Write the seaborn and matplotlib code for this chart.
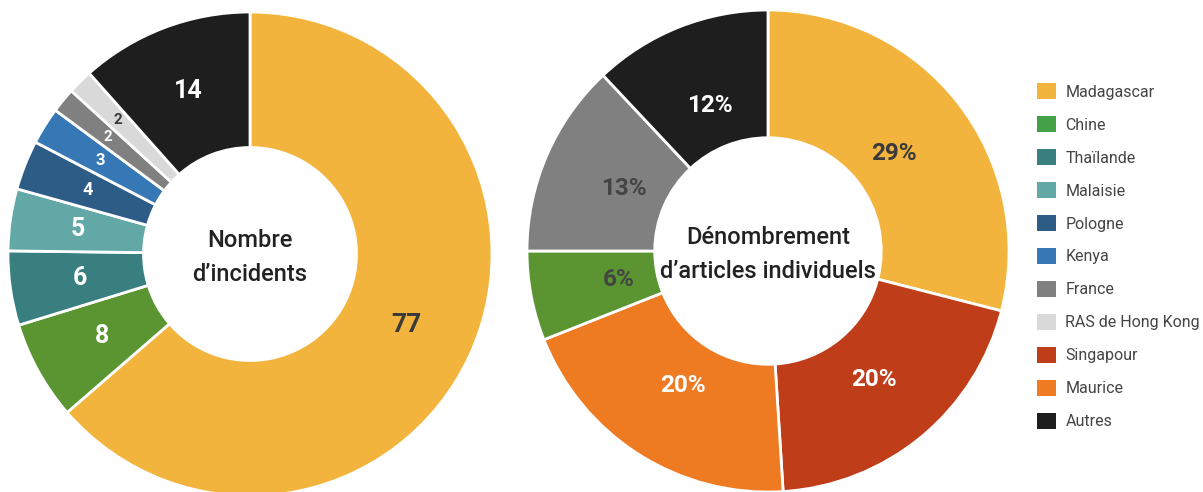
import matplotlib
matplotlib.use("Agg")
import numpy as np
import matplotlib.pyplot as plt
import seaborn as sns
from matplotlib.patches import Patch

# --- data ---
inc_labels = ['Madagascar', 'Chine', 'Thaïlande', 'Malaisie', 'Pologne', 'Kenya',
              'France', 'RAS de Hong Kong', 'Autres']
inc_values = [77, 8, 6, 5, 4, 3, 2, 2, 14]

art_labels = ['Madagascar', 'Singapour', 'Maurice', 'Chine', 'France', 'Autres']
art_values = [29, 20, 20, 6, 13, 12]

legend_labels = ['Madagascar', 'Chine', 'Thaïlande', 'Malaisie', 'Pologne', 'Kenya',
                 'France', 'RAS de Hong Kong', 'Singapour', 'Maurice', 'Autres']

colors = {
    'Madagascar': '#F2B43C', 'Chine': '#5A9532', 'Thaïlande': '#397F80',
    'Malaisie': '#62A8A6', 'Pologne': '#2D5D87', 'Kenya': '#3578B5',
    'France': '#808080', 'RAS de Hong Kong': '#D9D9D9', 'Singapour': '#C03D19',
    'Maurice': '#EE7A22', 'Autres': '#1E1E1E',
}
legend_colors = dict(colors, Chine='#43A047')

sns.set_theme(style='white')
plt.rcParams['font.family'] = ['Roboto', 'DejaVu Sans']

W, H = 1203, 492
fig = plt.figure(figsize=(W / 100, H / 100), dpi=100)


def donut(x0, x1, cx, cy, r, labels, values, hole, text_colors, sizes, label_r, fmt):
    # axes spanning pixel columns x0..x1, full height; pie centre at (cx, cy) px from top
    ax = fig.add_axes([x0 / W, 0, (x1 - x0) / W, 1])
    wedges, _ = ax.pie(values, colors=[colors[l] for l in labels], startangle=90,
                       counterclock=False, radius=1,
                       wedgeprops=dict(width=1 - hole, edgecolor='white', linewidth=2))
    ax.set_aspect('auto')
    ax.set_xlim((x0 - cx) / r, (x1 - cx) / r)
    ax.set_ylim(-(H - cy) / r, cy / r)
    ax.set_axis_off()
    for w, v, tc, fs, lr in zip(wedges, values, text_colors, sizes, label_r):
        ang = np.deg2rad((w.theta1 + w.theta2) / 2)
        ax.text(lr * np.cos(ang), lr * np.sin(ang), fmt(v), ha='center', va='center',
                color=tc, fontsize=fs, fontweight='bold')
    return ax


# left donut: number of incidents
ax1 = donut(0, 505, 250, 254, 242, inc_labels, inc_values, 0.44,
            ['#3a3a3a', 'white', 'white', 'white', 'white', 'white', 'white', '#3a3a3a', 'white'],
            [19, 18, 18, 18, 13, 12, 11, 11, 18],
            [0.71, 0.70, 0.71, 0.72, 0.72, 0.73, 0.76, 0.78, 0.72],
            lambda v: f'{v}')
ax1.text(0, -0.015, 'Nombre\nd’incidents', ha='center', va='center', fontsize=17,
         color='#222222', linespacing=1.65, fontweight='medium')

# right donut: individual articles
ax2 = donut(510, 1020, 768, 251, 241, art_labels, art_values, 0.47,
            ['#3a3a3a', 'white', 'white', '#444444', '#444444', 'white'],
            [17.5] * 6,
            [0.66, 0.69, 0.66, 0.63, 0.65, 0.65],
            lambda v: f'{v}%')
ax2.text(0, -0.015, 'Dénombrement\nd’articles individuels', ha='center', va='center', fontsize=17,
         color='#222222', linespacing=1.65, fontweight='medium')

handles = [Patch(facecolor=legend_colors[l], edgecolor='none') for l in legend_labels]
fig.legend(handles, legend_labels, loc='upper left', bbox_to_anchor=(1023 / W, 1 - 69 / H),
           frameon=False, fontsize=11.5, handlelength=1.15, handleheight=1.15,
           labelspacing=1.04, handletextpad=0.6, labelcolor='#444444')

fig.savefig('out.png', dpi=100)
